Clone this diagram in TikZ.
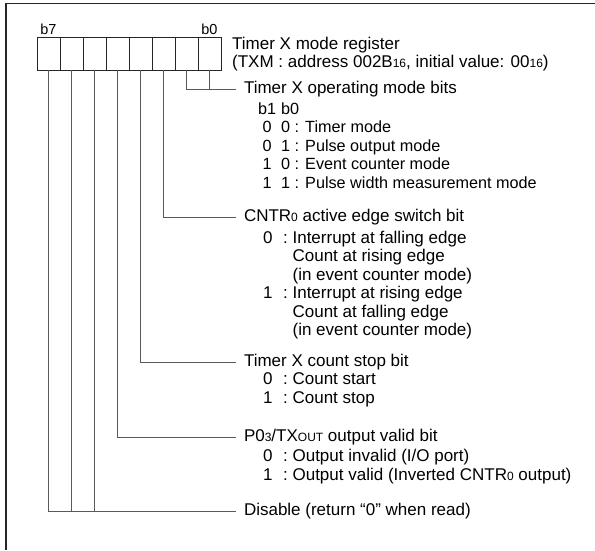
\documentclass[tikz,border=0pt]{standalone}
\usepackage{fontspec}
\setmainfont{Liberation Sans}
\usetikzlibrary{positioning}
\newcommand{\regfont}{\fontsize{17}{18.5}\selectfont}
\newcommand{\sm}[1]{{\fontsize{12}{12}\selectfont #1}}
\tikzset{
myBit/.style={
	rectangle, draw=black!85, line width=0.8pt,
	minimum width=23pt, minimum height=33pt,
	inner sep=0pt
}
, myBitNo/.style={
	inner sep=0pt, font=\fontsize{14.5}{16}\selectfont
}
, myHead/.style={
	anchor=west, inner sep=0pt, outer xsep=8pt, font=\regfont
}
, myList/.style={
	inner sep=0pt, font=\regfont, align=left
}
% link
, myLink/.style={draw=black!65, line width=0.8pt}
, myFrame/.style={draw=black!85, line width=1.8pt}
}

\begin{document}
\begin{tikzpicture}[x=1pt,y=-1pt]
	\useasboundingbox (0,0) rectangle (595,550);
	% frame
	\draw[myFrame] (595,3.5) -- (6,3.5) -- (6,550);
	% register
	\foreach \b in {0,...,7}
		\node[myBit] (c\b) at ({48.5+23*(7-\b)},53.5) {};
	\node[myBitNo, above=2pt of c7] (b7) {b7};
	\node[myBitNo, above=2pt of c0] (b0) {b0};
	\node[myList, anchor=west] (Title) at (232,54)
		{Timer X mode register\\(TXM : address 002B\sm{16}, initial value: 00\sm{16})};

	% bit descriptions
	\node[myHead] (OpMode) at (236,89) {Timer X operating mode bits};
	\node[myList, font=\fontsize{16.2}{18.5}\selectfont,
		below right=4pt and 22pt of OpMode.south west] (OpModeList)
		{\begin{tabular}{@{}c@{\hspace{5pt}}l@{}}
		b1 & b0\\
		0 & 0 : Timer mode\\
		0 & 1 : Pulse output mode\\
		1 & 0 : Event counter mode\\
		1 & 1 : Pulse width measurement mode
		\end{tabular}};

	\node[myHead] (Edge) at (236,217.5) {CNTR\sm{0} active edge switch bit};
	\node[myList, below right=4.5pt and 27pt of Edge.south west] (EdgeList)
		{\begin{tabular}{@{}l@{\hspace{10.5pt}}l@{\ }l@{}}
		0 & : & Interrupt at falling edge\\
		  &   & Count at rising edge\\
		  &   & (in event counter mode)\\
		1 & : & Interrupt at rising edge\\
		  &   & Count at falling edge\\
		  &   & (in event counter mode)
		\end{tabular}};

	\node[myHead] (Stop) at (236,362) {Timer X count stop bit};
	\node[myList, below right=1.5pt and 27pt of Stop.south west] (StopList)
		{\begin{tabular}{@{}l@{\hspace{10.5pt}}l@{\ }l@{}}
		0 & : & Count start\\
		1 & : & Count stop
		\end{tabular}};

	\node[myHead] (Port) at (236,437.5) {P0\sm{3}/TX\sm{OUT} output valid bit};
	\node[myList, below right=3pt and 27pt of Port.south west] (PortList)
		{\begin{tabular}{@{}l@{\hspace{10.5pt}}l@{\ }l@{}}
		0 & : & Output invalid (I/O port)\\
		1 & : & Output valid (Inverted CNTR\sm{0} output)
		\end{tabular}};

	\node[myHead] (Dis) at (236,511.5) {Disable (return “0” when read)};

	% links
	\draw[myLink] (c1.south) |- (OpMode.west);
	\draw[myLink] (c0.south) -- (c0.south |- OpMode.west);
	\draw[myLink] (c2.south) |- (Edge.west);
	\draw[myLink] (c3.south) |- (Stop.west);
	\draw[myLink] (c4.south) |- (Port.west);
	\draw[myLink] (c7.south) |- (Dis.west);
	\draw[myLink] (c6.south) -- (c6.south |- Dis.west);
	\draw[myLink] (c5.south) -- (c5.south |- Dis.west);
\end{tikzpicture}
\end{document}
